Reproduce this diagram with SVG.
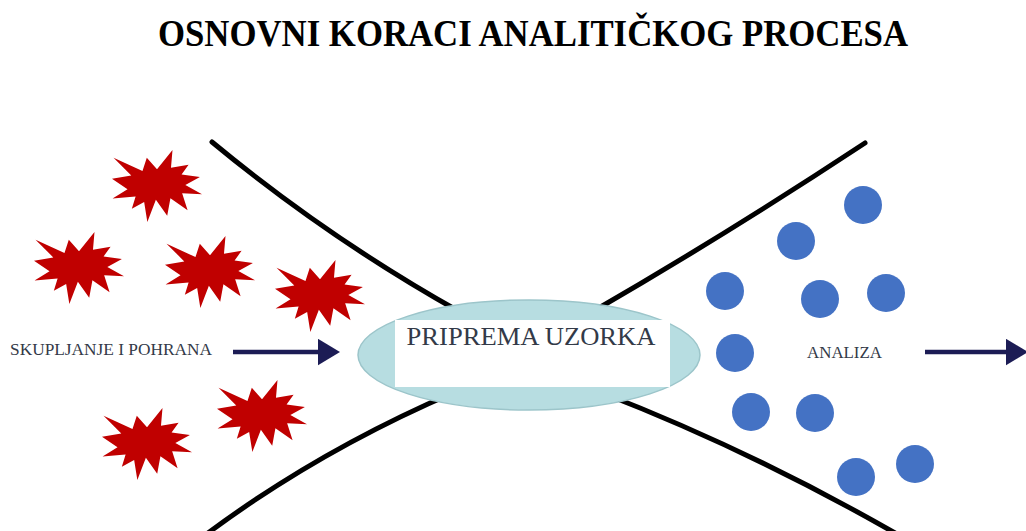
<svg xmlns="http://www.w3.org/2000/svg" xmlns:xlink="http://www.w3.org/1999/xlink" width="1026" height="531" viewBox="0 0 1026 531">
<style>
.curve{fill:none;stroke:#000;stroke-width:5;stroke-linecap:round}
.star{fill:#c00000}
.dot{fill:#4472c4}
.lbl{font-family:"Liberation Serif","Times New Roman",serif;fill:#333a48}
.arrow{stroke:#1c1c55;stroke-width:4.5;fill:none}
</style>
<defs>
<path id="burst" d="M45,19.33 L60.5,0 L58.98,17.75 L76.58,14.86 L69.59,24.38 L87.9,27.12 L73.36,34.92 L90,44.3 L70.15,43.14 L75.6,60.32 L58.42,48.19 L55.2,65.79 L43.88,49.78 L35.35,72 L32.15,52.09 L19.84,58.72 L23.61,46.46 L0.56,48.62 L15.51,39.25 L0,28.72 L19.28,25.39 L1.54,7.65 L30.47,21.07 L34.8,7.65 Z"/>
<marker id="head" markerWidth="6" markerHeight="6" refX="1" refY="3" orient="auto" markerUnits="strokeWidth">
<path d="M0,0 L5,3 L0,6 Z" fill="#1c1c55"/>
</marker>
</defs>
<rect width="1026" height="531" fill="#fff"/>
<text x="533" y="46" text-anchor="middle" font-family="Liberation Serif, Times New Roman, serif" font-weight="bold" font-size="37" fill="#000" textLength="750" lengthAdjust="spacingAndGlyphs">OSNOVNI KORACI ANALITIČKOG PROCESA</text>
<g id="funnel">
<path class="curve" d="M212,142 Q328,238 460,312"/>
<path class="curve" d="M865,143 Q727,234 592,312"/>
<path class="curve" d="M208,533 Q320,450 455,392"/>
<path class="curve" d="M895,533 Q750,450 600,392"/>
</g>
<g id="samples-raw">
<use href="#burst" class="star" x="112" y="150"/>
<use href="#burst" class="star" x="34" y="232"/>
<use href="#burst" class="star" x="165" y="236"/>
<use href="#burst" class="star" x="275" y="260"/>
<use href="#burst" class="star" x="102" y="408"/>
<use href="#burst" class="star" x="217" y="380"/>
</g>
<g id="samples-prepared">
<circle class="dot" cx="863" cy="205" r="19"/>
<circle class="dot" cx="796" cy="241" r="19"/>
<circle class="dot" cx="725" cy="291" r="19"/>
<circle class="dot" cx="820" cy="299" r="19"/>
<circle class="dot" cx="886" cy="293" r="19"/>
<circle class="dot" cx="735" cy="353" r="19"/>
<circle class="dot" cx="751" cy="412" r="19"/>
<circle class="dot" cx="815" cy="413" r="19"/>
<circle class="dot" cx="856" cy="477" r="19"/>
<circle class="dot" cx="915" cy="464" r="19"/>
</g>
<g id="priprema">
<ellipse cx="529" cy="355" rx="171" ry="55" fill="#b7dde1" stroke="#9cc5ca" stroke-width="1.5"/>
<rect x="395" y="320" width="275" height="67" fill="#fff"/>
<text class="lbl" x="531" y="345" text-anchor="middle" font-size="26" textLength="249" lengthAdjust="spacingAndGlyphs">PRIPREMA UZORKA</text>
</g>
<g id="skupljanje">
<text class="lbl" x="10" y="355" font-size="17" textLength="202" lengthAdjust="spacingAndGlyphs">SKUPLJANJE I POHRANA</text>
</g>
<g id="analiza">
<text class="lbl" x="807" y="358" font-size="17" textLength="75" lengthAdjust="spacingAndGlyphs" fill="#3e3a3a">ANALIZA</text>
</g>
<g id="connectors">
<line class="arrow" x1="233" y1="352" x2="322" y2="352" marker-end="url(#head)"/>
<line class="arrow" x1="925" y1="352" x2="1010" y2="352" marker-end="url(#head)"/>
</g>
</svg>
